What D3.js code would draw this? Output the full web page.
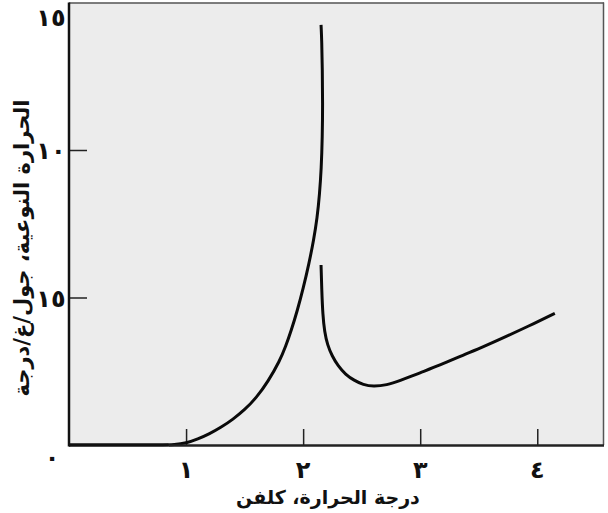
<!DOCTYPE html>
<html><head><meta charset="utf-8">
<script src="https://cdn.jsdelivr.net/npm/d3@7"></script>
<style>body{margin:0;background:#fff}svg{display:block}</style>
</head><body>
<svg id="c" width="608" height="513"></svg>
<script>
// Data: specific heat of liquid helium vs temperature (Kelvin)
const belowLambda = [
  [0,0],[0.4,0],[0.8,0],[0.9,0.01],[1.0,0.06],[1.1,0.2],[1.2,0.38],[1.3,0.6],[1.4,0.87],
  [1.5,1.19],[1.6,1.6],[1.7,2.15],[1.8,2.85],[1.85,3.33],[1.9,3.9],[1.95,4.55],[2.0,5.3],
  [2.05,6.15],[2.09,6.95],[2.12,7.7],[2.14,8.5],[2.155,9.35],[2.164,10.45],[2.167,11.58],
  [2.164,12.71],[2.159,13.73],[2.153,14.24]
];
const aboveLambda = [
  [2.153,6.10],[2.159,5.25],[2.168,4.41],[2.183,3.83],[2.208,3.39],[2.247,3.02],[2.298,2.68],
  [2.362,2.39],[2.435,2.19],[2.514,2.04],[2.599,1.98],[2.714,2.03],[2.827,2.18],[2.999,2.45],
  [3.17,2.71],[3.369,3.05],[3.54,3.33],[3.74,3.69],[3.91,4.0],[4.15,4.46]
];
const xTicks = [0,1,2,3,4];
const xTickLabels = ["٠","١","٢","٣","٤"];
const yTicks = [5,10,15];
const yTickLabels = ["١٥","١٠","١٥"];
const xTitle = "درجة الحرارة، كلفن";
const yTitle = "الحرارة النوعية، جول/غ/درجة";

const svg = d3.select("#c");
const L=69, R=604, T=2.5, B=445;
const x = d3.scaleLinear().domain([0,4.57]).range([L,R]);
const y = d3.scaleLinear().domain([0,15]).range([B,T]);
const font = "'DejaVu Sans', sans-serif";

svg.append("rect").attr("x",L).attr("y",T).attr("width",R-L).attr("height",B-T).attr("fill","#ececec");

// ticks
svg.append("g").attr("transform",`translate(0,${B})`)
  .call(d3.axisBottom(x).tickValues(xTicks.filter(d=>d>0)).tickSize(-16).tickFormat(""))
  .call(g=>{g.select(".domain").remove();g.selectAll("line").attr("stroke","#222").attr("stroke-width",1.5);});
svg.append("g").attr("transform",`translate(${L},0)`)
  .call(d3.axisLeft(y).tickValues(yTicks.filter(d=>d<15)).tickSize(-18).tickFormat(""))
  .call(g=>{g.select(".domain").remove();g.selectAll("line").attr("stroke","#222").attr("stroke-width",1.5);});

// curves
const line = d3.line().x(d=>x(d[0])).y(d=>y(d[1])).curve(d3.curveBasis);
[belowLambda, aboveLambda].forEach(s=>{
  svg.append("path").attr("d",line(s)).attr("fill","none").attr("stroke","#0a0a0a")
    .attr("stroke-width",3).attr("stroke-linejoin","round");
});

// frame
svg.append("line").attr("x1",L).attr("x2",R).attr("y1",T+0.5).attr("y2",T+0.5).attr("stroke","#555").attr("stroke-width",1.5);
svg.append("line").attr("x1",R-0.5).attr("x2",R-0.5).attr("y1",T).attr("y2",B).attr("stroke","#555").attr("stroke-width",1.5);
svg.append("line").attr("x1",L).attr("x2",L).attr("y1",T).attr("y2",B+1.5).attr("stroke","#111").attr("stroke-width",2.5);
svg.append("line").attr("x1",L).attr("x2",x(0.85)).attr("y1",B).attr("y2",B).attr("stroke","#111").attr("stroke-width",3);
svg.append("line").attr("x1",x(0.85)).attr("x2",R).attr("y1",B+0.5).attr("y2",B+0.5).attr("stroke","#222").attr("stroke-width",2.5);

// x tick labels
svg.append("g").selectAll("text").data(xTicks).join("text")
  .attr("x",d=>d===0? x(d)-17 : x(d)).attr("y",d=>d===0? 466 : 478)
  .attr("text-anchor","middle").attr("font-family",font).attr("font-weight","bold")
  .attr("font-size",24).attr("fill","#111").text((d,i)=>xTickLabels[i]);

// y tick labels
svg.append("g").selectAll("text").data(yTicks).join("text")
  .attr("x",51).attr("y",d=>d===15? y(d)+23 : y(d)+9)
  .attr("text-anchor","middle").attr("font-family",font).attr("font-weight","bold")
  .attr("font-size",24).attr("fill","#111").text((d,i)=>yTickLabels[i]);

// titles
svg.append("text").attr("x",328).attr("y",504).attr("text-anchor","middle")
  .attr("font-family",font).attr("font-weight","bold").attr("font-size",19).attr("fill","#111")
  .attr("direction","rtl").text(xTitle);
svg.append("text").attr("transform",`translate(22,${248}) rotate(-90)`).attr("text-anchor","middle")
  .attr("dy","0.35em").attr("font-family",font).attr("font-weight","bold").attr("font-size",21).attr("fill","#111")
  .attr("direction","rtl").text(yTitle);
</script>
</body></html>
